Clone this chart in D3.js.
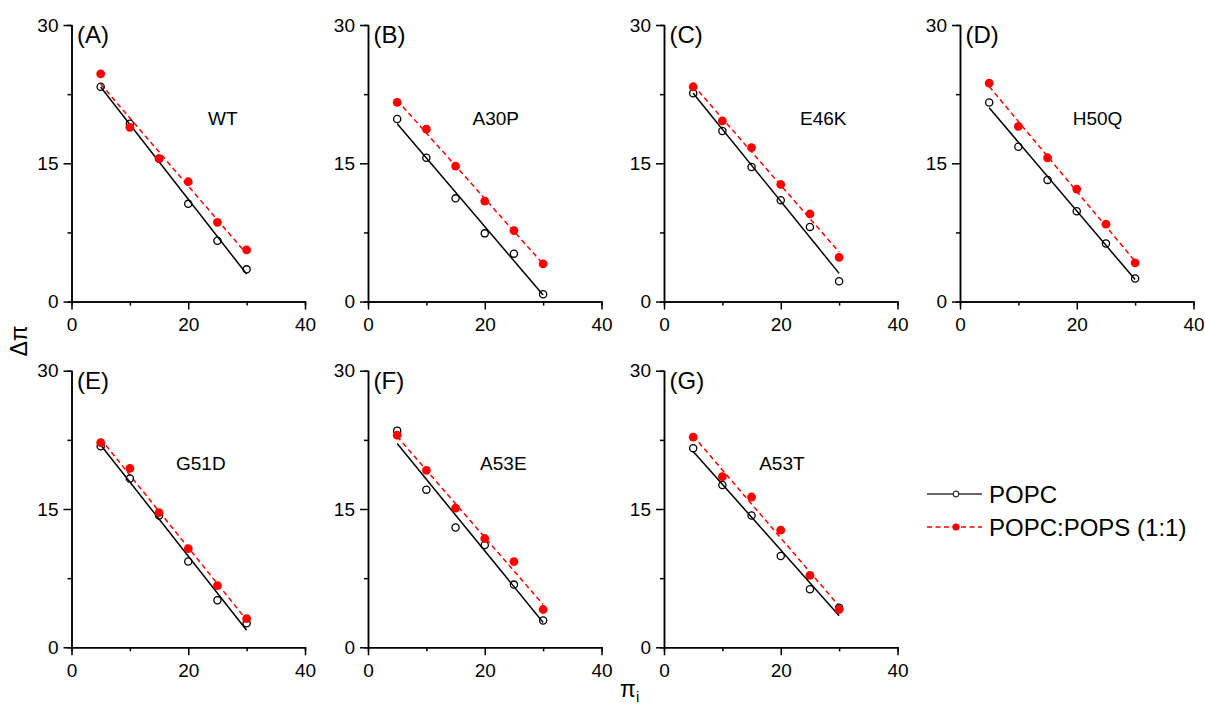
<!DOCTYPE html>
<html>
<head>
<meta charset="utf-8">
<script src="https://cdn.jsdelivr.net/npm/d3@7"></script>
<style>
  body { margin: 0; background: #fff; }
  text { font-family: Arial, "Liberation Sans", sans-serif; fill: #000; }
</style>
</head>
<body>
<svg id="chart" width="1205" height="704"></svg>
<script>
// initial surface pressure (x) shared by all panels
const piI = [5, 10, 15, 20, 25, 30];
const mutants = ["WT", "A30P", "E46K", "H50Q", "G51D", "A53E", "A53T"];
const panelTags = ["(A)", "(B)", "(C)", "(D)", "(E)", "(F)", "(G)"];
const seriesNames = ["POPC", "POPC:POPS (1:1)"];

// delta pi, POPC (open circles)
const popc = [
  [23.3, 19.3, 15.5, 10.6, 6.6, 3.5],
  [19.8, 15.6, 11.2, 7.4, 5.2, 0.8],
  [22.6, 18.5, 14.6, 11.0, 8.1, 2.2],
  [21.6, 16.8, 13.2, 9.8, 6.3, 2.5],
  [21.8, 18.3, 14.3, 9.3, 5.1, 2.6],
  [23.5, 17.1, 13.0, 11.1, 6.8, 2.9],
  [21.6, 17.6, 14.3, 9.9, 6.3, 4.3]
];
// delta pi, POPC:POPS 1:1 (filled red)
const pops = [
  [24.7, 18.9, 15.5, 13.0, 8.6, 5.6],
  [21.6, 18.7, 14.7, 10.9, 7.7, 4.1],
  [23.3, 19.6, 16.7, 12.7, 9.5, 4.8],
  [23.7, 19.0, 15.6, 12.2, 8.4, 4.2],
  [22.2, 19.4, 14.6, 10.7, 6.7, 3.1],
  [23.0, 19.2, 15.1, 11.8, 9.3, 4.1],
  [22.8, 18.5, 16.3, 12.7, 7.8, 4.1]
];

const xTicks = [0, 20, 40], xMinor = [10, 30];
const yTicks = [0, 15, 30], yMinor = [7.5, 22.5];

// layout
const colX = [71.5, 368, 664, 960];
const rowY = [25, 370.7];
const pw = 233.5, ph = 276.6;
const nameX = [23.4, 17.9, 23.3, 19.3, 17.9, 19.2, 16.3]; // mutant label, data units
const nameY = 19.2;

const svg = d3.select("#chart");

const fit = (xs, ys) => {
  const mx = d3.mean(xs), my = d3.mean(ys);
  const sxy = d3.sum(xs, (x, i) => (x - mx) * (ys[i] - my));
  const sxx = d3.sum(xs, (x) => (x - mx) * (x - mx));
  const b = sxy / sxx;
  return (x) => my + b * (x - mx);
};

mutants.forEach((name, i) => {
  const col = i < 4 ? i : i - 4;
  const row = i < 4 ? 0 : 1;
  const g = svg.append("g")
    .attr("transform", `translate(${colX[col]},${rowY[row]})`);

  const x = d3.scaleLinear().domain([0, 40]).range([0, pw]);
  const y = d3.scaleLinear().domain([0, 30]).range([ph, 0]);

  // minor ticks
  g.append("g").attr("class", "ax")
    .attr("transform", `translate(0,${ph})`)
    .call(d3.axisBottom(x).tickValues(xMinor).tickSize(4).tickFormat(""));
  g.append("g").attr("class", "ax")
    .call(d3.axisLeft(y).tickValues(yMinor).tickSize(4).tickFormat(""));
  // major
  g.append("g").attr("class", "ax")
    .attr("transform", `translate(0,${ph})`)
    .call(d3.axisBottom(x).tickValues(xTicks).tickSize(8).tickSizeOuter(0).tickPadding(8));
  g.append("g").attr("class", "ax")
    .call(d3.axisLeft(y).tickValues(yTicks).tickSize(8).tickSizeOuter(0).tickPadding(5));

  g.selectAll(".ax path, .ax line").attr("stroke", "#000").attr("stroke-width", 1.5);
  g.selectAll(".ax text").attr("font-size", 19).attr("fill", "#000")
    .style("font-family", "Arial, 'Liberation Sans', sans-serif");

  // fit lines
  const f1 = fit(piI, popc[i]);
  const f2 = fit(piI, pops[i]);
  const x1 = d3.min(piI), x2 = d3.max(piI);
  g.append("line")
    .attr("x1", x(x1)).attr("y1", y(f1(x1)))
    .attr("x2", x(x2)).attr("y2", y(f1(x2)))
    .attr("stroke", "#000").attr("stroke-width", 1.5);
  g.append("line")
    .attr("x1", x(x1)).attr("y1", y(f2(x1)))
    .attr("x2", x(x2)).attr("y2", y(f2(x2)))
    .attr("stroke", "#ff0000").attr("stroke-width", 1.5)
    .attr("stroke-dasharray", "5,3.5");

  g.selectAll(".popc")
    .data(popc[i]).enter().append("circle")
    .attr("cx", (d, j) => x(piI[j])).attr("cy", (d) => y(d))
    .attr("r", 3.6).attr("fill", "#fff").attr("fill-opacity", 0)
    .attr("stroke", "#000").attr("stroke-width", 1.3);
  g.selectAll(".pops")
    .data(pops[i]).enter().append("circle")
    .attr("cx", (d, j) => x(piI[j])).attr("cy", (d) => y(d))
    .attr("r", 4.4).attr("fill", "#ff0000");

  g.append("text")
    .attr("x", 5.5).attr("y", 18)
    .attr("font-size", 24)
    .text(panelTags[i]);
  g.append("text")
    .attr("x", x(nameX[i])).attr("y", y(nameY))
    .attr("font-size", 19)
    .text(name);
});

// axis titles
svg.append("text")
  .attr("transform", "translate(27,341) rotate(-90)")
  .attr("text-anchor", "middle")
  .attr("font-size", 23)
  .text("\u0394\u03c0");
const xt = svg.append("text")
  .attr("x", 620).attr("y", 697)
  .attr("font-size", 23)
  .text("\u03c0");
xt.append("tspan").attr("font-size", 15).attr("dy", 5).text("i");

// legend
const legend = svg.append("g").attr("transform", "translate(927,494)");
seriesNames.forEach((s, k) => {
  const row = legend.append("g").attr("transform", `translate(0,${k * 33})`);
  row.append("line")
    .attr("x1", 0).attr("x2", 55).attr("y1", 0).attr("y2", 0)
    .attr("stroke", k ? "#ff0000" : "#333").attr("stroke-width", 1.5)
    .attr("stroke-dasharray", k ? "5,3.5" : null);
  row.append("circle")
    .attr("cx", 29).attr("cy", 0)
    .attr("r", k ? 3.6 : 2.8)
    .attr("fill", k ? "#ff0000" : "#fff")
    .attr("stroke", k ? "none" : "#333").attr("stroke-width", 1.2);
  row.append("text")
    .attr("x", 62).attr("y", 8.5)
    .attr("font-size", 24)
    .text(s);
});
</script>
</body>
</html>
